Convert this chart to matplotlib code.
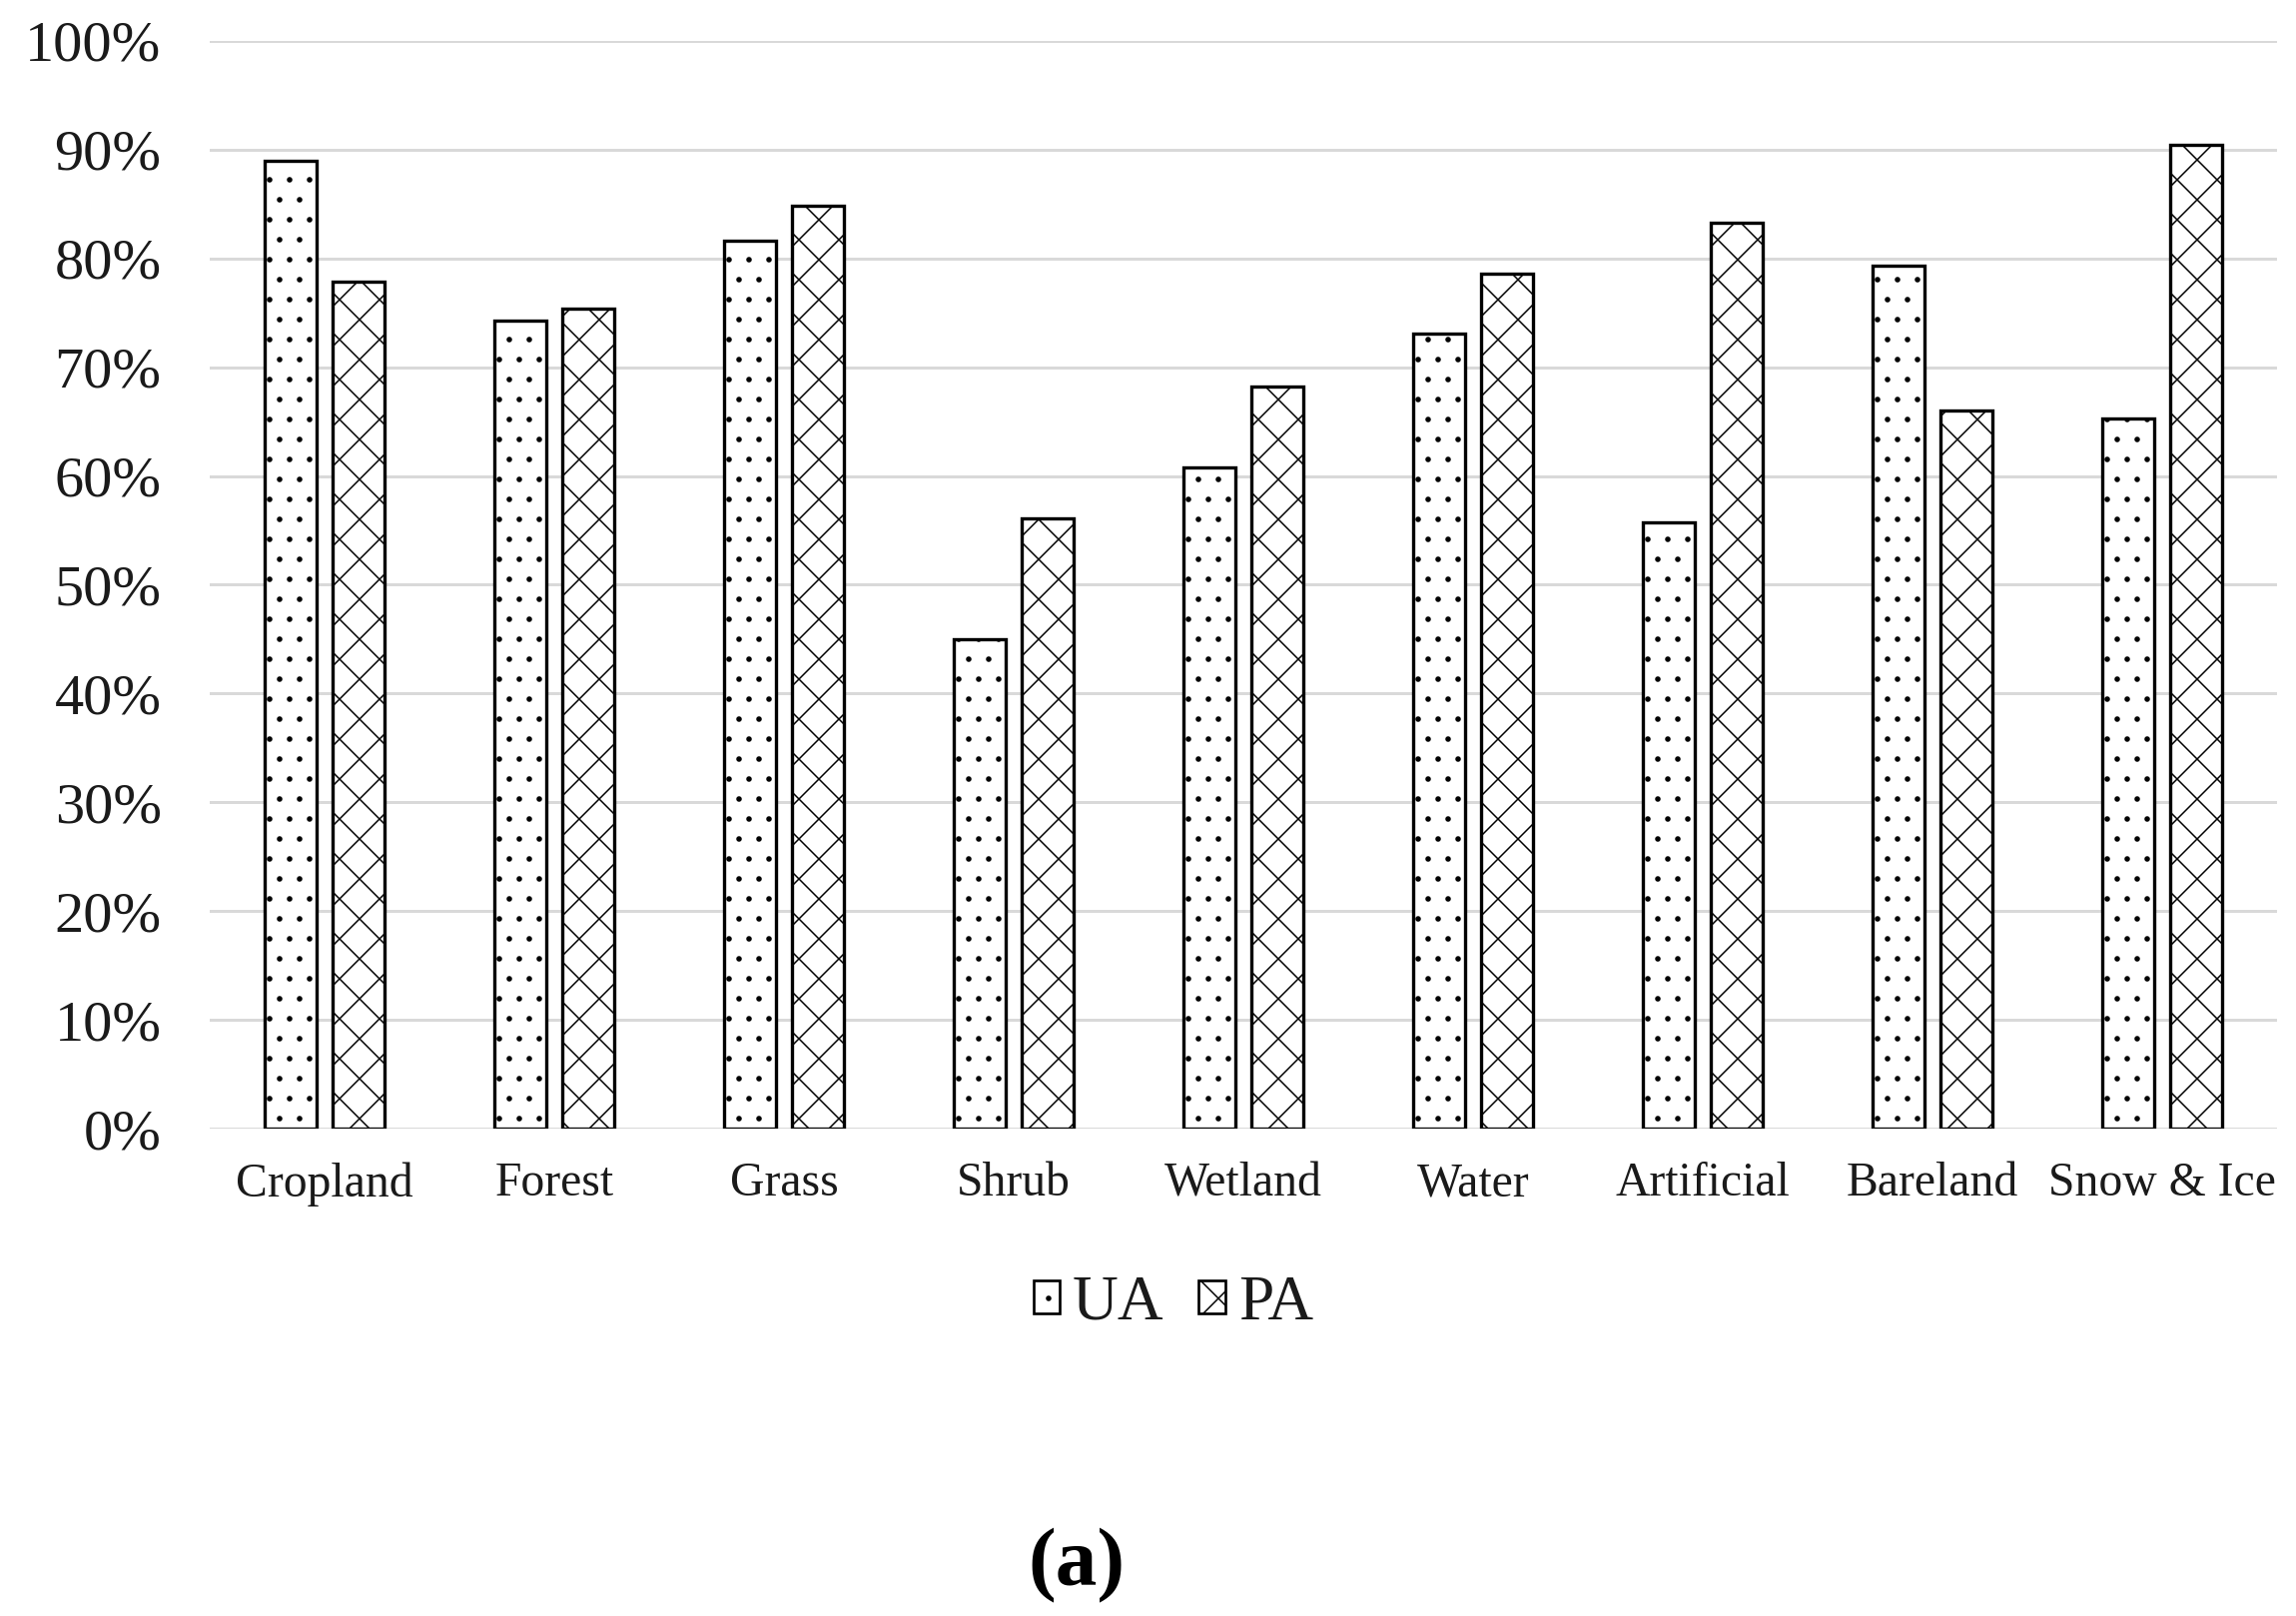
import matplotlib
matplotlib.use("Agg")
import matplotlib.pyplot as plt
from matplotlib.patches import Patch
import numpy as np

# data
classes = ["Cropland", "Forest", "Grass", "Shrub", "Wetland",
           "Water", "Artificial", "Bareland", "Snow & Ice"]
ua = [89.0, 74.3, 81.6, 45.0, 60.8, 73.1, 55.7, 79.3, 65.3]
pa = [77.9, 75.4, 84.8, 56.1, 68.2, 78.6, 83.3, 66.0, 90.4]
yticks = [0, 10, 20, 30, 40, 50, 60, 70, 80, 90, 100]

DPI = 240
plt.rcParams['font.family'] = ['Liberation Serif', 'DejaVu Serif']
plt.rcParams['hatch.linewidth'] = 0.45
plt.rcParams['hatch.color'] = 'black'

fig = plt.figure(figsize=(2299 / DPI, 1618 / DPI), dpi=DPI)
ax = fig.add_axes([0.0913, 0.3016, 0.9004, 0.6731])

x = np.arange(len(classes))
w = 0.225
ax.bar(x - 0.148, ua, w, facecolor='white', edgecolor='black',
       linewidth=1.0, hatch='..', zorder=3, label='UA')
ax.bar(x + 0.148, pa, w, facecolor='white', edgecolor='black',
       linewidth=1.0, hatch='xx', zorder=3, label='PA')

ax.set_xlim(-0.5, len(classes) - 0.5)
ax.set_ylim(0, 100)
ax.set_yticks(yticks)
ax.set_yticklabels([f"{t}%" for t in yticks])
ax.set_xticks(x)
ax.set_xticklabels(classes)
ax.tick_params(axis='both', length=0, colors='#1a1a1a')
ax.tick_params(axis='x', pad=10, labelsize=14.3)
ax.tick_params(axis='y', pad=14.5, labelsize=17.5)
ax.yaxis.grid(True, color='#d9d9d9', linewidth=0.9, zorder=0)
ax.set_axisbelow(True)
for s in ax.spines.values():
    s.set_visible(False)

handles = [Patch(facecolor='white', edgecolor='black', linewidth=0.8, hatch='..', label='UA'),
           Patch(facecolor='white', edgecolor='black', linewidth=0.8, hatch='xx', label='PA')]
fig.legend(handles=handles, loc='center', bbox_to_anchor=(0.511, 0.193), ncol=2,
           frameon=False, fontsize=19, handlelength=0.42, handleheight=0.42,
           handletextpad=0.2, columnspacing=0.55, labelcolor='#1a1a1a')

fig.text(0.469, 0.031, "(a)", ha='center', va='center', fontsize=25, fontweight='bold')

fig.savefig("out.png", dpi=DPI, facecolor='white')
